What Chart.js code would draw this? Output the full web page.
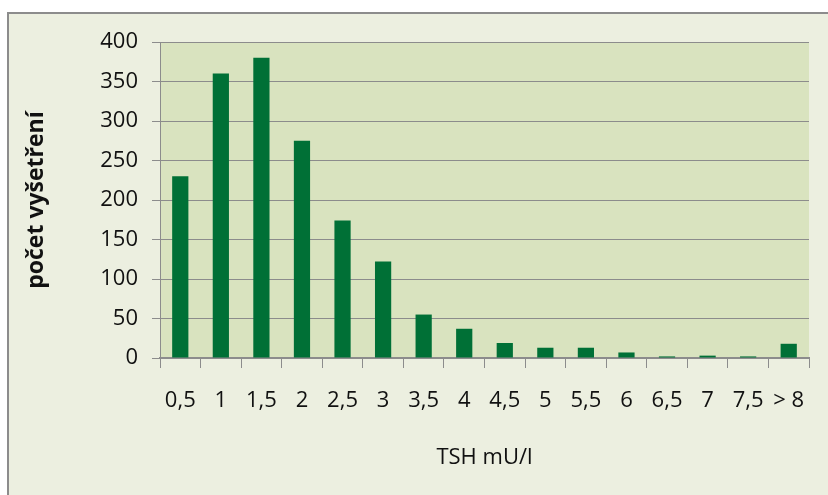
<!DOCTYPE html>
<html>
<head>
<meta charset="utf-8">
<script src="https://cdn.jsdelivr.net/npm/chart.js@4"></script>
<style>
  body { margin: 0; background: #ffffff; }
  #frame {
    position: absolute; left: 7px; top: 12px; width: 821px; height: 483px;
    border-left: 2px solid #8c8c8c; border-top: 2px solid #8c8c8c;
    background: #ecefe0;
  }
</style>
</head>
<body>
<div id="frame"><canvas id="chartjs-0" width="819" height="481"></canvas></div>
<script>
// TSH values (categories) and number of tests
var categories = ["0,5", "1", "1,5", "2", "2,5", "3", "3,5", "4", "4,5", "5", "5,5", "6", "6,5", "7", "7,5", "> 8"];
var counts = [230, 360, 380, 275, 174, 122, 55, 37, 19, 13, 13, 7, 2, 3, 2, 18];
var yTicks = [0, 50, 100, 150, 200, 250, 300, 350, 400];

var fontName = "'Open Sans', sans-serif";

/* fill the plot area */
var plotBg = {
    id: "plotBg",
    beforeDraw: function(chart) {
        let a = chart.chartArea;
        let ctx = chart.ctx;
        ctx.save();
        ctx.fillStyle = "#d9e3bf";
        ctx.fillRect(a.left, a.top, a.right - a.left, a.bottom - a.top);
        ctx.restore();
    }
};

var ctx0 = document.getElementById("chartjs-0");
var myChart0 = new Chart(ctx0, {
    type: "bar",
    data: {
        labels: categories,
        datasets: [{
            label: "počet vyšetření",
            data: counts,
            backgroundColor: "#007036",
            barPercentage: 0.4,
            categoryPercentage: 1
        }]
    },
    options: {
        responsive: false,
        animation: false,
        layout: { padding: { left: 0, right: 19, top: 28, bottom: 0 } },
        plugins: { legend: { display: false }, tooltip: { enabled: false } },
        scales: {
            x: {
                afterFit: function(s) { s.height = 137; },
                grid: { drawOnChartArea: false, color: "#8c8c8c", tickLength: 10, offset: true },
                border: { color: "#8c8c8c", width: 2 },
                ticks: { color: "#111111", font: { family: fontName, size: 22 }, padding: 20, maxRotation: 0, autoSkip: false },
                title: { display: true, text: "TSH mU/l", color: "#111111",
                         font: { family: fontName, size: 22 }, padding: { top: 0, bottom: 24 } }
            },
            y: {
                min: 0, max: 400,
                afterFit: function(s) { s.width = 151; },
                afterBuildTicks: function(s) { s.ticks = yTicks.map(function(v) { return { value: v }; }); },
                grid: { color: "#8c8c8c", tickLength: 8 },
                border: { color: "#8c8c8c" },
                ticks: { color: "#111111", font: { family: fontName, size: 22 }, padding: 14 },
                title: { display: true, text: "počet vyšetření", color: "#111111",
                         font: { family: fontName, size: 23, weight: "bold" }, padding: { top: 14, bottom: 0 } }
            }
        }
    },
    plugins: [plotBg]
});
</script>
</body>
</html>
